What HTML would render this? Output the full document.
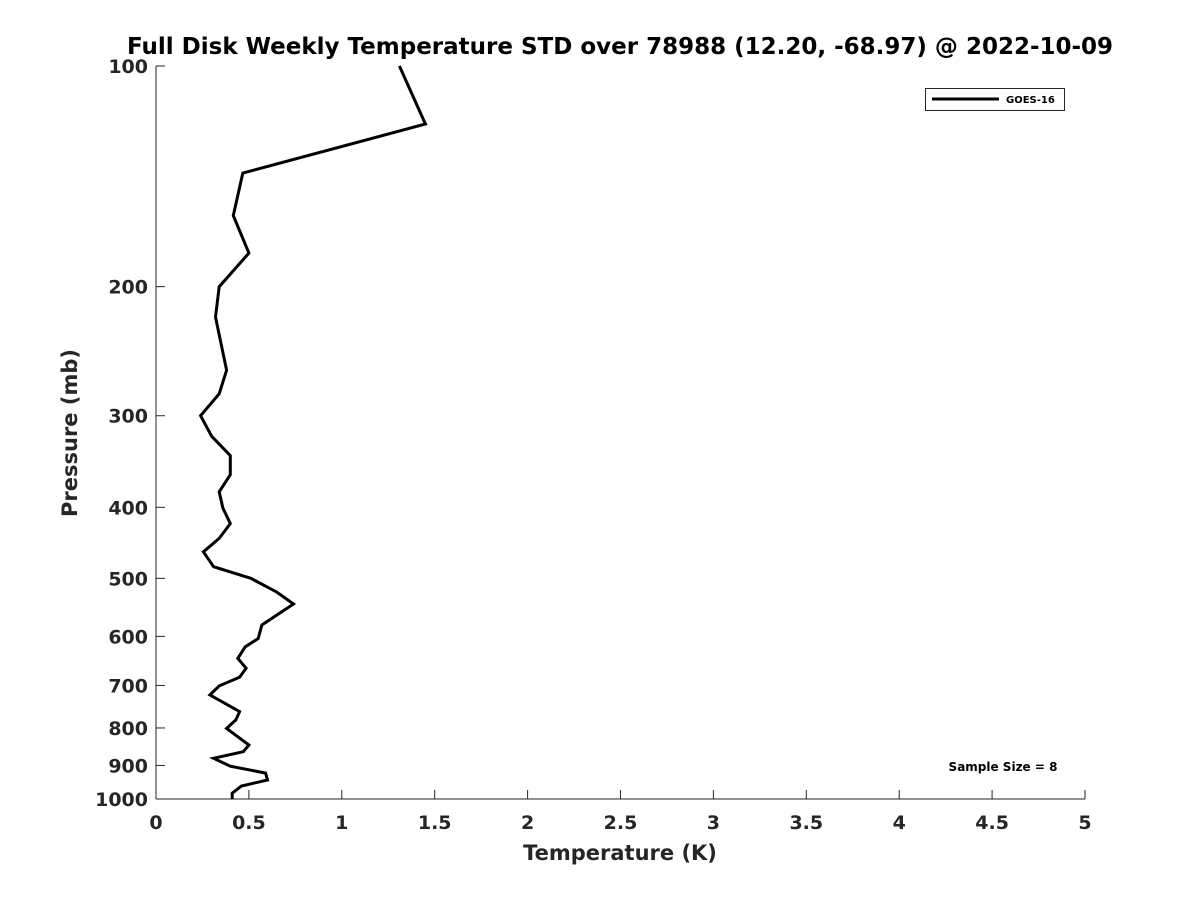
<!DOCTYPE html>
<html><head><meta charset="utf-8"><style>
body{margin:0;background:#fff;}
svg{display:block;font-family:"DejaVu Sans","Liberation Sans",sans-serif;font-weight:bold;}
</style></head><body>
<svg id="chart" width="1200" height="900" viewBox="0 0 1200 900">
<rect x="0" y="0" width="1200" height="900" fill="#fff"/>
<text x="620" y="54" text-anchor="middle" font-size="23" fill="#000">Full Disk Weekly Temperature STD over 78988 (12.20, -68.97) @ 2022-10-09</text>
<g id="axes"></g>
<g id="series"></g>
<text x="620" y="860" text-anchor="middle" font-size="21" fill="#262626">Temperature (K)</text>
<text transform="translate(77,433) rotate(-90)" text-anchor="middle" font-size="21" fill="#262626">Pressure (mb)</text>
<g>
<rect x="925.5" y="88.5" width="139" height="22" fill="#fff" stroke="#262626" stroke-width="1"/>
<line x1="932" y1="99" x2="999" y2="99" stroke="#000" stroke-width="3"/>
<text x="1006" y="103" font-size="10" fill="#000">GOES-16</text>
</g>
<text x="1003" y="771" text-anchor="middle" font-size="12" fill="#000">Sample Size = 8</text>
</svg>
<script>
const xTicks=[0,0.5,1,1.5,2,2.5,3,3.5,4,4.5,5];
const xTickLabels=["0","0.5","1","1.5","2","2.5","3","3.5","4","4.5","5"];
const yTicks=[100,200,300,400,500,600,700,800,900,1000];
const yTickLabels=["100","200","300","400","500","600","700","800","900","1000"];
const pressure=[100,120,140,160,180,200,220,260,280,300,320,340,361,381,401,421,441,460,482,500,522,542,579,604,620,643,663,682,701,721,760,780,801,844,862,880,902,922,942,960,982,1000];
const tempStd=[1.31,1.45,0.467,0.416,0.50,0.34,0.32,0.38,0.34,0.24,0.30,0.40,0.40,0.34,0.36,0.40,0.34,0.255,0.31,0.51,0.65,0.74,0.57,0.55,0.48,0.44,0.485,0.45,0.34,0.29,0.45,0.43,0.38,0.50,0.47,0.31,0.40,0.59,0.60,0.46,0.41,0.41];
const L=156,R=1085,T=66,B=799;
const xs=v=>L+(v-0)/(5-0)*(R-L);
const ys=p=>T+(Math.log10(p)-2)/(3-2)*(B-T);
const NS="http://www.w3.org/2000/svg";
const axes=document.getElementById('axes');
function mk(tag,attrs,parent){const e=document.createElementNS(NS,tag);for(const k in attrs)e.setAttribute(k,attrs[k]);parent.appendChild(e);return e;}
let a=mk('line',{x1:L,y1:T,x2:L,y2:B,stroke:'#262626','stroke-width':1},axes);


a=mk('line',{x1:L,y1:B,x2:R,y2:B,stroke:'#262626','stroke-width':1},axes);


xTicks.forEach((v,i)=>{
 const x=xs(v);
 const t=mk('line',{x1:x,y1:B,x2:x,y2:B-9,stroke:'#262626','stroke-width':1},axes);
 
 
 const l=mk('text',{x:x,y:B+30,'text-anchor':'middle','font-size':19,fill:'#262626'},axes);
 l.textContent=xTickLabels[i];
 
 
});
yTicks.forEach((v,i)=>{
 const y=ys(v);
 const t=mk('line',{x1:L,y1:y,x2:L+9,y2:y,stroke:'#262626','stroke-width':1},axes);
 
 
 const l=mk('text',{x:L-8,y:y+7,'text-anchor':'end','font-size':19,fill:'#262626'},axes);
 l.textContent=yTickLabels[i];
 
 
});
const pts=pressure.map((p,i)=>xs(tempStd[i]).toFixed(1)+','+ys(p).toFixed(1)).join(' ');
const line=mk('polyline',{points:pts,fill:'none',stroke:'#000','stroke-width':3,'stroke-linejoin':'miter'},document.getElementById('series'));


</script>
</body></html>
